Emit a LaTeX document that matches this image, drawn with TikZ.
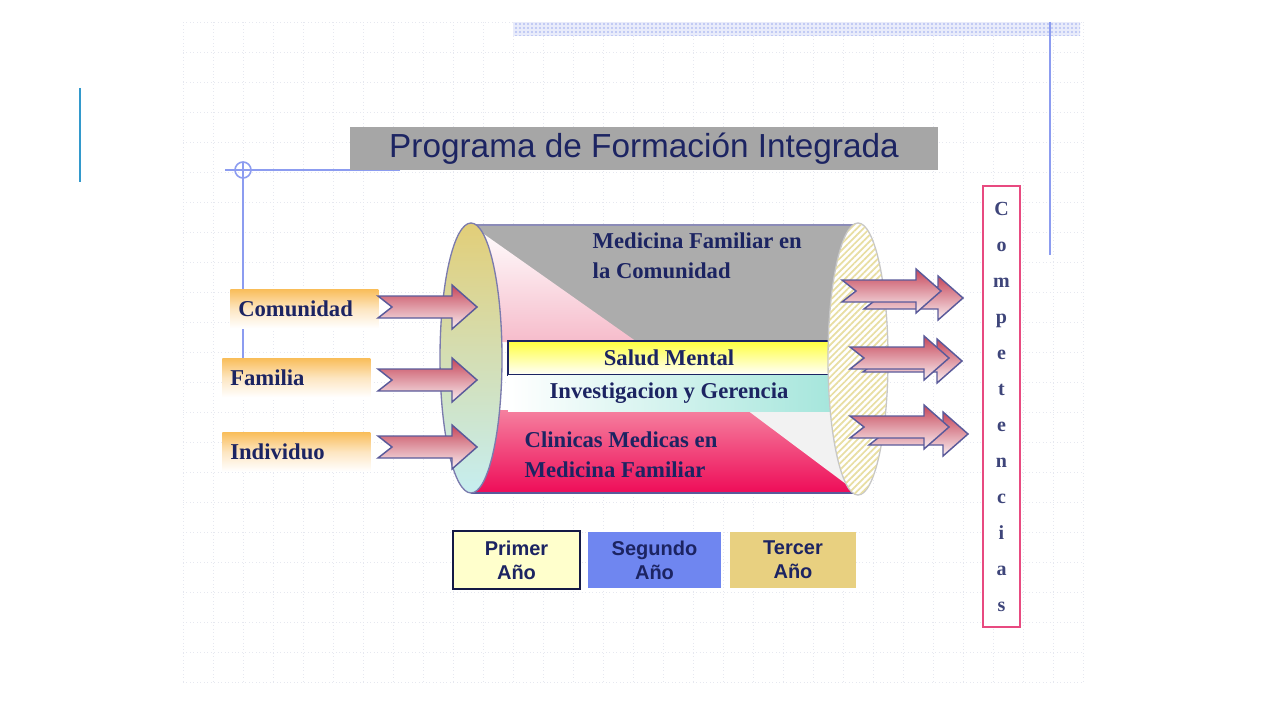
\documentclass[tikz,border=0pt]{standalone}
\usepackage{fontspec}
\setmainfont{Liberation Serif}
\setsansfont{Liberation Sans}
\usetikzlibrary{patterns,patterns.meta}

\definecolor{navy}{HTML}{1C2462}
\definecolor{gridc}{HTML}{E6E8F0}
\definecolor{lineblue}{HTML}{8C9CF0}
\definecolor{bandblue}{HTML}{B4C0F2}
\definecolor{sideblue}{HTML}{3399CC}
\definecolor{titlegray}{HTML}{A6A6A6}
\definecolor{lbltop}{HTML}{F9BE5C}
\definecolor{lblmid}{HTML}{FDE6C2}
\definecolor{arrowtop}{HTML}{C64659}
\definecolor{arrowbot}{HTML}{FAF0F3}
\definecolor{arrowline}{HTML}{5A5A9A}
\definecolor{bodygray}{HTML}{ACACAC}
\definecolor{pinktri}{HTML}{F6BCCB}
\definecolor{redtop}{HTML}{F5809F}
\definecolor{redbot}{HTML}{EE0C58}
\definecolor{saludtop}{HTML}{FFFF3C}
\definecolor{invcyan}{HTML}{A6E6DC}
\definecolor{capleft}{HTML}{E2CE78}
\definecolor{capbot}{HTML}{C6EEF0}
\definecolor{hatch}{HTML}{E8DEA2}
\definecolor{compink}{HTML}{E84A80}
\definecolor{primerc}{HTML}{FFFFCC}
\definecolor{segundoc}{HTML}{6F86F0}
\definecolor{tercerc}{HTML}{E8D080}

\tikzset{
  blockarrow/.pic={
    \draw[arrowbody] (0,-11) -- (74,-11) -- (74,-22) -- (99,0) -- (74,22)
      -- (74,11) -- (0,11) -- (14,0) -- cycle;
  }
}

\begin{document}
\begin{tikzpicture}[x=0.75pt,y=-0.75pt,
    arrowbody/.style={draw=arrowline, line width=1.1pt, top color=arrowtop, bottom color=arrowbot},
    lblbox/.style={anchor=west, minimum width=111pt, minimum height=29pt, text width=99pt,
      inner xsep=6pt, align=left, top color=lbltop, bottom color=white, middle color=lblmid,
      font=\fontsize{17}{17}\selectfont\bfseries, text=navy},
    bandtext/.style={font=\fontsize{17}{22.5}\selectfont\bfseries, text=navy},
    yearbox/.style={minimum height=42pt, align=center,
      font=\sffamily\bfseries\fontsize{15}{18}\selectfont, text=navy}]
  \useasboundingbox (0,0) rectangle (1280,720);

  % dotted background grid
  \foreach \gx in {183,213,...,1083}
    \draw[gridc, dotted, line width=0.6pt] (\gx,22) -- (\gx,682);
  \foreach \gy in {22,52,...,682}
    \draw[gridc, dotted, line width=0.6pt] (183,\gy) -- (1083,\gy);

  % frame lines
  \fill[bandblue!30] (513,22) rectangle (1080,36);
  \fill[pattern={Dots[distance=3pt, radius=0.9pt]}, pattern color=bandblue] (513,22) rectangle (1080,36);
  \draw[sideblue, line width=1.5pt] (80,88) -- (80,182);
  \draw[lineblue, line width=1.5pt] (1050,22) -- (1050,255);
  \draw[lineblue, line width=1.5pt] (225,170) -- (400,170);
  \draw[lineblue, line width=1.5pt] (243,162) -- (243,359);
  \draw[lineblue, line width=1.2pt] (243,170) circle (8);

  % title
  \node[fill=titlegray, minimum width=441pt, minimum height=32pt, text=navy,
    font=\sffamily\fontsize{25}{25}\selectfont] (title) at (644,148.5) {Programa de Formación Integrada};

  % cylinder body
  \fill[bodygray] (471,225) rectangle (858,342);
  \shade[top color=white, bottom color=pinktri] (471,225) -- (637,342) -- (471,342) -- cycle;
  \shade[top color=redtop, bottom color=redbot] (471,410) rectangle (858,493);
  \fill[black!5] (747,410) -- (858,410) -- (858,493) -- cycle;
  \draw[arrowline!70, line width=1pt] (471,225) -- (858,225);
  \draw[arrowline, line width=1pt] (471,493) -- (858,493);

  \node[bandtext, anchor=west, align=left] (comunidadtxt) at (588,256) {Medicina Familiar en\\la Comunidad};
  \node[bandtext, anchor=west, align=left] (clinicas) at (520,455) {Clinicas Medicas en\\Medicina Familiar};

  % bands
  \node[bandtext, draw=navy, line width=1.5pt, minimum width=241.5pt, minimum height=26pt,
    top color=saludtop, bottom color=white] (salud) at (669,358) {Salud Mental};
  \node[bandtext, minimum width=241.5pt, minimum height=27pt, inner sep=0pt,
    left color=white, right color=invcyan] (invest) at (669,393.5) {Investigacion y Gerencia};

  % end caps
  \draw[draw=arrowline!80, line width=1pt, top color=capleft, bottom color=capbot] (471,358) ellipse [x radius=31, y radius=135];
  \draw[draw=black!22, fill=white, line width=1pt] (858,359) ellipse [x radius=30, y radius=136];
  \fill[pattern={Lines[angle=45, distance=3.4pt, line width=1.3pt]}, pattern color=hatch] (858,359) ellipse [x radius=29.5, y radius=135.5];

  % inputs
  \node[lblbox] (comunidad) at (230,309) {Comunidad};
  \node[lblbox] (familia) at (222,378) {Familia};
  \node[lblbox] (individuo) at (222,452) {Individuo};
  \pic at (378,307) {blockarrow};
  \pic at (378,380) {blockarrow};
  \pic at (378,447) {blockarrow};

  % outputs
  \pic at (864,298) {blockarrow};
  \pic at (842,291) {blockarrow};
  \pic at (863,361) {blockarrow};
  \pic at (850,358) {blockarrow};
  \pic at (869,434) {blockarrow};
  \pic at (850,427) {blockarrow};

  \node[draw=compink, line width=1.5pt, fill=white, minimum width=27.75pt, minimum height=331pt,
    inner sep=0pt, align=center, text=navy!85, font=\fontsize{15}{27}\selectfont\bfseries] (competencias) at (1001.5,406.5)
    {C\\o\\m\\p\\e\\t\\e\\n\\c\\i\\a\\s};

  % years
  \node[yearbox, draw=navy!70!black, line width=1.5pt, fill=primerc, minimum width=95pt, minimum height=43pt] (primer) at (516.5,560) {Primer\\Año};
  \node[yearbox, fill=segundoc, minimum width=100pt] (segundo) at (654.5,560) {Segundo\\Año};
  \node[yearbox, fill=tercerc, minimum width=94.5pt] (tercer) at (793,560) {Tercer\\Año};
\end{tikzpicture}
\end{document}
